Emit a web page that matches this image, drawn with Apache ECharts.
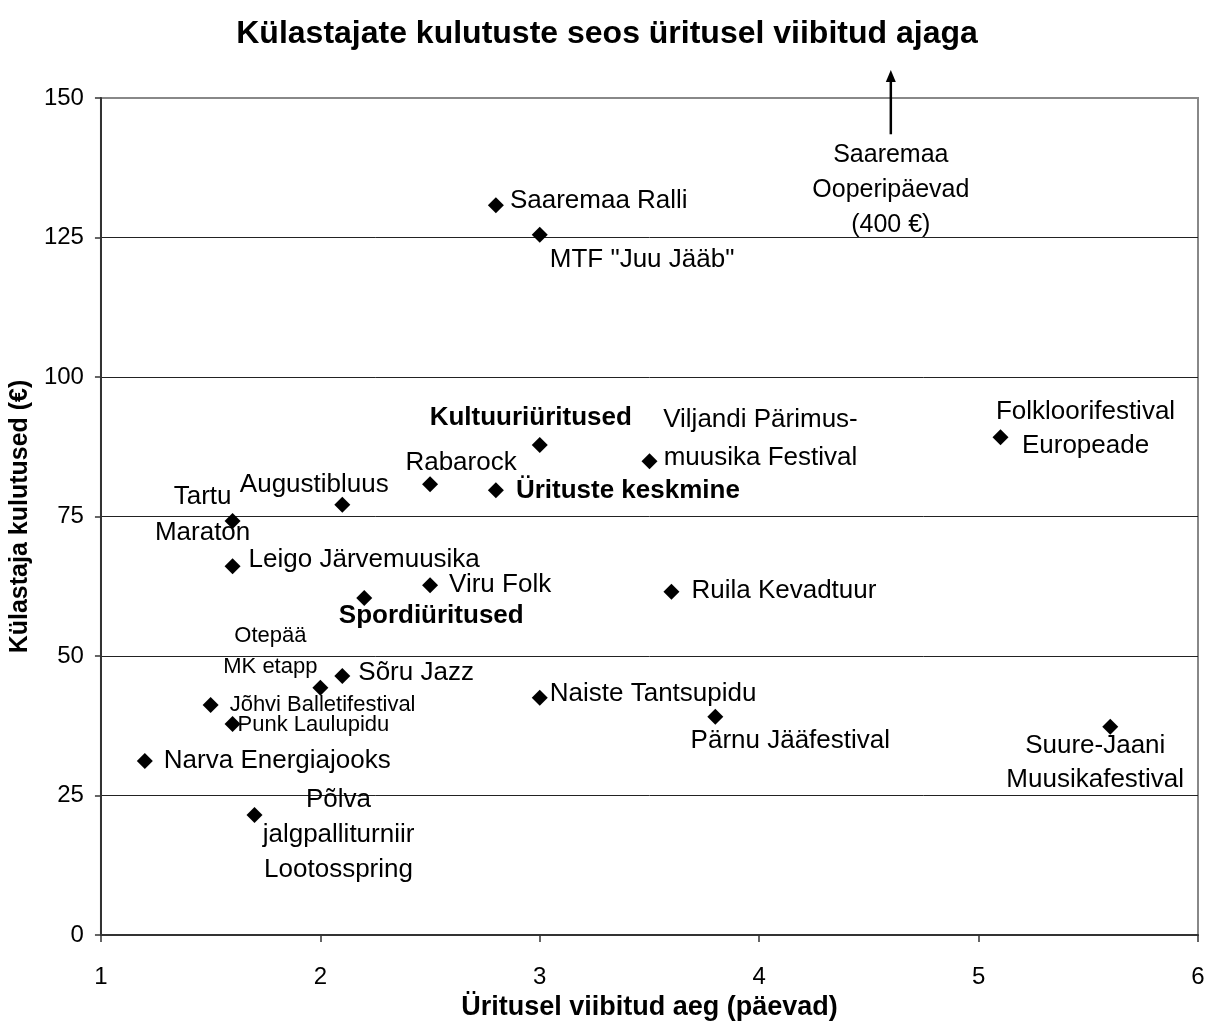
<!DOCTYPE html>
<html>
<head>
<meta charset="utf-8">
<title>Külastajate kulutuste seos üritusel viibitud ajaga</title>
<script src="https://cdn.jsdelivr.net/npm/echarts@6/dist/echarts.min.js"></script>
<style>
  html, body { margin: 0; padding: 0; background: #fff; }
  #chart { width: 1214px; height: 1032px; }
</style>
</head>
<body>
<div id="chart"></div>
<script>
// events: name, days spent, spending (€)
const events = [
  'Saaremaa Ralli', 'MTF "Juu Jääb"', 'Kultuuriüritused', 'Viljandi Pärimus-\nmuusika Festival',
  'Folkloorifestival\nEuropeade', 'Rabarock', 'Ürituste keskmine', 'Augustibluus',
  'Tartu\nMaraton', 'Leigo Järvemuusika', 'Viru Folk', 'Ruila Kevadtuur',
  'Spordiüritused', 'Otepää\nMK etapp', 'Sõru Jazz', 'Naiste Tantsupidu',
  'Jõhvi Balletifestival', 'Punk Laulupidu', 'Pärnu Jääfestival', 'Suure-Jaani\nMuusikafestival',
  'Narva Energiajooks', 'Põlva\njalgpalliturniir\nLootosspring'
]
const days = [2.8, 3.0, 3.0, 3.5, 5.1, 2.5, 2.8, 2.1, 1.6, 1.6, 2.5, 3.6, 2.2, 2.0, 2.1, 3.0, 1.5, 1.6, 3.8, 5.6, 1.2, 1.7]
const spending = [130.8, 125.5, 87.8, 84.9, 89.2, 80.8, 79.7, 77.1, 74.2, 66.1, 62.7, 61.5, 60.4, 44.3, 46.4, 42.5, 41.2, 37.8, 39.1, 37.3, 31.2, 21.5]

// off-scale outlier shown as an arrow
const outlierName = 'Saaremaa\nOoperipäevad\n(400 €)'
const outlierDays = 4.6

const xTicks = { min: 1, max: 6, step: 1 }
const yTicks = { min: 0, max: 150, step: 25 }

const boldNames = ['Kultuuriüritused', 'Ürituste keskmine', 'Spordiüritused']
const smallNames = ['Otepää\nMK etapp', 'Jõhvi Balletifestival', 'Punk Laulupidu']

// label placement: [align, dx, dy, lineHeight]
const labelPlace = {
  'Saaremaa Ralli': ['left', 14, -4],
  'MTF "Juu Jääb"': ['left', 10, 25],
  'Kultuuriüritused': ['center', -9, -27],
  'Viljandi Pärimus-\nmuusika Festival': ['center', 111, -22, 38],
  'Folkloorifestival\nEuropeade': ['center', 85, -8, 34],
  'Rabarock': ['center', 31, -21],
  'Ürituste keskmine': ['left', 20, 1],
  'Augustibluus': ['center', -28, -20],
  'Tartu\nMaraton': ['center', -30, -6, 36],
  'Leigo Järvemuusika': ['left', 16, -6],
  'Viru Folk': ['left', 19, 0],
  'Ruila Kevadtuur': ['left', 20, -1],
  'Spordiüritused': ['center', 67, 18],
  'Otepää\nMK etapp': ['center', -50, -36, 31],
  'Sõru Jazz': ['left', 16, -3],
  'Naiste Tantsupidu': ['left', 10, -4],
  'Jõhvi Balletifestival': ['left', 19, 0],
  'Punk Laulupidu': ['left', 5, 1],
  'Pärnu Jääfestival': ['center', 75, 24],
  'Suure-Jaani\nMuusikafestival': ['center', -15, 36, 34],
  'Narva Energiajooks': ['left', 19, 0],
  'Põlva\njalgpalliturniir\nLootosspring': ['center', 84, 20, 35]
}

const FONT = "'Liberation Sans', Arial, sans-serif"

const points = events.map((name, i) => {
  const p = labelPlace[name] || ['left', 12, 0]
  const small = smallNames.includes(name)
  return {
    name: name,
    value: [days[i], spending[i]],
    label: {
      show: true,
      formatter: name,
      position: 'inside',
      align: p[0],
      verticalAlign: 'middle',
      offset: [p[1], p[2]],
      lineHeight: p[3] || 30,
      color: '#000',
      textBorderWidth: 0,
      fontFamily: FONT,
      fontSize: small ? 22 : 26,
      fontWeight: boldNames.includes(name) ? 'bold' : 'normal'
    }
  }
})

const chart = echarts.init(document.getElementById('chart'))

chart.setOption({
  animation: false,
  textStyle: { fontFamily: FONT },
  title: {
    text: 'Külastajate kulutuste seos üritusel viibitud ajaga',
    left: 'center',
    top: 13,
    textStyle: { fontFamily: FONT, fontSize: 32, fontWeight: 'bold', color: '#000' }
  },
  grid: {
    left: 99,
    right: 16,
    top: 98,
    bottom: 97,
    show: true,
    borderColor: '#888',
    borderWidth: 2
  },
  xAxis: {
    type: 'value',
    min: xTicks.min,
    max: xTicks.max,
    interval: xTicks.step,
    name: 'Üritusel viibitud aeg (päevad)',
    nameLocation: 'middle',
    nameGap: 48,
    nameTextStyle: { fontFamily: FONT, fontSize: 27, fontWeight: 'bold', color: '#000' },
    axisLine: { show: true, lineStyle: { color: '#333', width: 2 } },
    axisTick: { show: true, length: 7, lineStyle: { color: '#333', width: 1.5 } },
    axisLabel: { fontFamily: FONT, fontSize: 24, color: '#000', margin: 30 },
    splitLine: { show: false }
  },
  yAxis: {
    type: 'value',
    min: yTicks.min,
    max: yTicks.max,
    interval: yTicks.step,
    name: 'Külastaja kulutused (€)',
    nameLocation: 'middle',
    nameGap: 66,
    nameTextStyle: { fontFamily: FONT, fontSize: 25, fontWeight: 'bold', color: '#000' },
    axisLine: { show: true, lineStyle: { color: '#333', width: 2 } },
    axisTick: { show: true, length: 6, lineStyle: { color: '#333', width: 1.5 } },
    axisLabel: { fontFamily: FONT, fontSize: 24, color: '#000', margin: 17 },
    splitLine: { show: true, showMinLine: false, showMaxLine: false, lineStyle: { color: '#222', width: 1 } }
  },
  series: [
    {
      name: 'Üritused',
      type: 'scatter',
      symbol: 'diamond',
      symbolSize: 16,
      itemStyle: { color: '#000', opacity: 1 },
      emphasis: { disabled: true },
      data: points
    },
    {
      name: 'Saaremaa Ooperipäevad',
      type: 'scatter',
      symbol: 'circle',
      symbolSize: 1,
      itemStyle: { color: 'rgba(0,0,0,0)', opacity: 1 },
      emphasis: { disabled: true },
      label: {
        show: true,
        formatter: outlierName,
        position: 'inside',
        align: 'center',
        verticalAlign: 'top',
        offset: [0, 3],
        lineHeight: 35,
        fontSize: 25,
        color: '#000',
        textBorderWidth: 0,
        fontFamily: FONT
      },
      data: [[outlierDays, 143.5]]
    }
  ]
})

// arrow pointing up, past the top of the axis
const from = chart.convertToPixel({ xAxisIndex: 0, yAxisIndex: 0 }, [outlierDays, 143.5])
const to = chart.convertToPixel({ xAxisIndex: 0, yAxisIndex: 0 }, [outlierDays, 155])
chart.setOption({
  graphic: [
    {
      type: 'line',
      shape: { x1: from[0], y1: from[1], x2: to[0], y2: to[1] + 8 },
      style: { stroke: '#000', lineWidth: 2.5 }
    },
    {
      type: 'polygon',
      shape: { points: [[to[0], to[1]], [to[0] - 5, to[1] + 12], [to[0] + 5, to[1] + 12]] },
      style: { fill: '#000' }
    }
  ]
})
</script>
</body>
</html>
